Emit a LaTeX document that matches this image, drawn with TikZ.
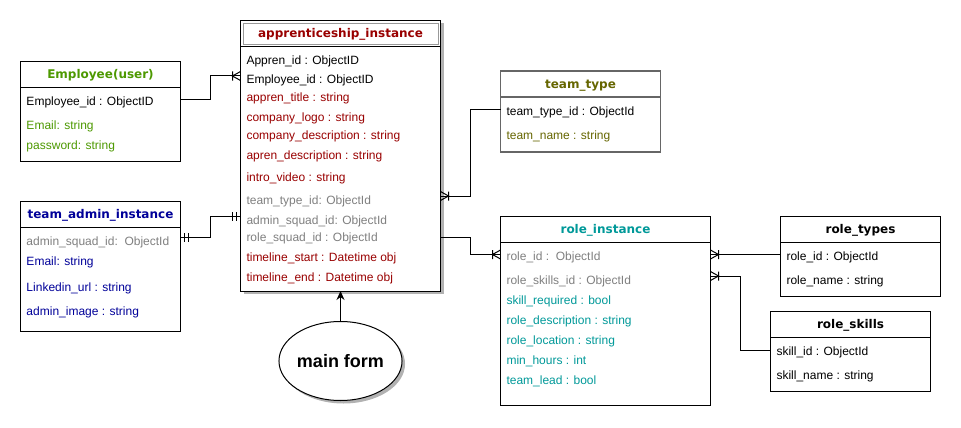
\documentclass[tikz,border=0pt]{standalone}
\usepackage{fontspec}
\setmainfont{Liberation Sans}
\newfontfamily\hdrfont{DejaVu Sans}
\usetikzlibrary{arrows.meta,positioning,shapes.geometric,shadows}
\definecolor{empGreen}{HTML}{4D9900}
\definecolor{appRed}{HTML}{990000}
\definecolor{teamOlive}{HTML}{666600}
\definecolor{adminBlue}{HTML}{000099}
\definecolor{roleTeal}{HTML}{009999}
\definecolor{idGray}{HTML}{808080}

% crow's foot with a bar (one or many)
\pgfdeclarearrow{
  name = CrowFoot,
  setup code = {
    \pgfarrowssettipend{0pt}
    \pgfarrowssetlineend{0pt}
    \pgfarrowssetbackend{-8.5pt}
    \pgfarrowsupperhullpoint{0pt}{4.5pt}
    \pgfarrowsupperhullpoint{-8.5pt}{4.5pt}
  },
  drawing code = {
    \pgfpathmoveto{\pgfqpoint{0pt}{4.5pt}}
    \pgfpathlineto{\pgfqpoint{-8pt}{0pt}}
    \pgfpathlineto{\pgfqpoint{0pt}{-4.5pt}}
    \pgfpathmoveto{\pgfqpoint{-8pt}{4.5pt}}
    \pgfpathlineto{\pgfqpoint{-8pt}{-4.5pt}}
    \pgfusepathqstroke
  }
}
% two bars (one and only one)
\pgfdeclarearrow{
  name = DoubleBar,
  setup code = {
    \pgfarrowssettipend{0pt}
    \pgfarrowssetlineend{0pt}
    \pgfarrowssetbackend{-8.5pt}
    \pgfarrowsupperhullpoint{0pt}{4.5pt}
    \pgfarrowsupperhullpoint{-8.5pt}{4.5pt}
  },
  drawing code = {
    \pgfpathmoveto{\pgfqpoint{-4pt}{4.5pt}}
    \pgfpathlineto{\pgfqpoint{-4pt}{-4.5pt}}
    \pgfpathmoveto{\pgfqpoint{-8pt}{4.5pt}}
    \pgfpathlineto{\pgfqpoint{-8pt}{-4.5pt}}
    \pgfusepathqstroke
  }
}

\tikzstyle{entityHead}=[draw, fill=white, rectangle, inner sep=0pt, outer sep=0pt, minimum height=26pt, anchor=north west, text height=8.5pt, text depth=0pt, font=\hdrfont\bfseries\fontsize{12pt}{14pt}\selectfont]
\tikzstyle{entityBody}=[draw, fill=white, rectangle, inner sep=0pt, outer sep=0pt]
\tikzstyle{field}=[anchor=west, inner sep=0pt, text height=8pt, text depth=0pt, font=\fontsize{12pt}{14pt}\selectfont]
\tikzstyle{boxShadow}=[drop shadow={shadow xshift=3pt, shadow yshift=-3pt, fill=black!30, opacity=1}]
\tikzstyle{relOneMany}=[-{CrowFoot}]
\tikzstyle{relOneOne}=[{DoubleBar}-{DoubleBar}]
\tikzstyle{formArrow}=[-{Stealth[length=9pt,width=8pt]}]

\begin{document}
\begin{tikzpicture}[x=1pt, y=-1pt, line width=1pt]
    \useasboundingbox (0,0) rectangle (961,428);

    % Employee(user)
    \node[entityHead, minimum width=160pt, text=empGreen] (empH) at (20.5,61.5) {Employee(user)};
    \node[entityBody, minimum width=160pt, minimum height=73.5pt, below=0pt of empH] (empB) {};
    \node[field] (emp1) at (26,101) {Employee\_id : ObjectID};
    \node[field, text=empGreen] (emp2) at (26,125) {Email: string};
    \node[field, text=empGreen] (emp3) at (26,145) {password: string};

    % team_admin_instance
    \node[entityHead, minimum width=160pt, text=adminBlue] (admH) at (20.5,201.5) {team\_admin\_instance};
    \node[entityBody, minimum width=160pt, minimum height=103.5pt, below=0pt of admH] (admB) {};
    \node[field, text=idGray] (adm1) at (26,241) {admin\_squad\_id:\ \ ObjectId};
    \node[field, text=adminBlue] (adm2) at (26,261) {Email: string};
    \node[field, text=adminBlue] (adm3) at (26,287) {Linkedin\_url : string};
    \node[field, text=adminBlue] (adm4) at (26,311) {admin\_image : string};

    % apprenticeship_instance
    \node[entityHead, boxShadow, minimum width=200pt, text=appRed] (appH) at (240.5,20.5) {apprenticeship\_instance};
    \node[entityBody, boxShadow, minimum width=200pt, minimum height=244.5pt, below=0pt of appH] (appB) {};
    \draw[black!40, line width=0.8pt] ([shift={(2.5pt,-2.5pt)}]appH.north west) rectangle ([shift={(-2.5pt,2.5pt)}]appH.south east);
    \node[field] (app1) at (246,60) {Appren\_id : ObjectID};
    \node[field] (app2) at (246,80) {Employee\_id : ObjectID};
    \node[field, text=appRed] (app3) at (246,97) {appren\_title : string};
    \node[field, text=appRed] (app4) at (246,117) {company\_logo : string};
    \node[field, text=appRed] (app5) at (246,135) {company\_description : string};
    \node[field, text=appRed] (app6) at (246,155) {apren\_description : string};
    \node[field, text=appRed] (app7) at (246,177) {intro\_video : string};
    \node[field, text=idGray] (app8) at (246,200) {team\_type\_id: ObjectId};
    \node[field, text=idGray] (app9) at (246,220) {admin\_squad\_id: ObjectId};
    \node[field, text=idGray] (app10) at (246,237) {role\_squad\_id : ObjectId};
    \node[field, text=appRed] (app11) at (246,257) {timeline\_start : Datetime obj};
    \node[field, text=appRed] (app12) at (246,277) {timeline\_end : Datetime obj};

    % team_type
    \node[entityHead, draw=black!60, line width=1.3pt, minimum width=160pt, text=teamOlive] (ttH) at (500.5,71) {team\_type};
    \node[entityBody, draw=black!60, line width=1.3pt, minimum width=160pt, minimum height=55pt, below=0pt of ttH] (ttB) {};
    \node[field] (tt1) at (506,111) {team\_type\_id : ObjectId};
    \node[field, text=teamOlive] (tt2) at (506,135) {team\_name : string};

    % role_instance
    \node[entityHead, minimum width=210pt, text=roleTeal] (riH) at (500.5,216.5) {role\_instance};
    \node[entityBody, minimum width=210pt, minimum height=163pt, below=0pt of riH] (riB) {};
    \node[field, text=idGray] (ri1) at (506,256) {role\_id :\ \ ObjectId};
    \node[field, text=idGray] (ri2) at (506,280) {role\_skills\_id : ObjectId};
    \node[field, text=roleTeal] (ri3) at (506,300) {skill\_required : bool};
    \node[field, text=roleTeal] (ri4) at (506,320) {role\_description : string};
    \node[field, text=roleTeal] (ri5) at (506,340) {role\_location : string};
    \node[field, text=roleTeal] (ri6) at (506,360) {min\_hours : int};
    \node[field, text=roleTeal] (ri7) at (506,380) {team\_lead : bool};

    % role_types
    \node[entityHead, minimum width=160pt] (rtH) at (780.5,216.5) {role\_types};
    \node[entityBody, minimum width=160pt, minimum height=54pt, below=0pt of rtH] (rtB) {};
    \node[field] (rt1) at (786,256) {role\_id : ObjectId};
    \node[field] (rt2) at (786,280) {role\_name : string};

    % role_skills
    \node[entityHead, minimum width=160pt] (rsH) at (770.5,311.5) {role\_skills};
    \node[entityBody, minimum width=160pt, minimum height=53.5pt, below=0pt of rsH] (rsB) {};
    \node[field] (rs1) at (776,351) {skill\_id : ObjectId};
    \node[field] (rs2) at (776,375) {skill\_name : string};

    % main form
    \node[ellipse, draw, fill=white, boxShadow, minimum width=119pt, minimum height=79pt, inner sep=0pt, font=\bfseries\fontsize{18pt}{20pt}\selectfont] (form) at (340.5,361) {main form};

    % Relations
    \draw[relOneMany] ([yshift=1.5pt]empB.east |- emp1) -- ++(30,0) |- ([yshift=4pt]appB.west |- app2);
    \draw[relOneOne] ([yshift=4pt]admB.east |- adm1) -- ++(30,0) |- ([yshift=3.5pt]appB.west |- app9);
    \draw[relOneMany] ([yshift=1.5pt]ttB.west |- tt1) -- ++(-30,0) |- ([yshift=4pt]appB.east |- app8);
    \draw[relOneMany] (appB.east |- app10) -- ++(30,0) |- ([yshift=1.5pt]riB.west |- ri1);
    \draw[relOneMany] ([yshift=1.5pt]rtB.west |- rt1) -- ([yshift=1.5pt]riB.east |- ri1);
    \draw[relOneMany] ([yshift=0.5pt]rsB.west |- rs1) -- ++(-30,0) |- ([yshift=4pt]riB.east |- ri2);
    \draw[formArrow] (form.north) -- (appB.south);

\end{tikzpicture}
\end{document}
